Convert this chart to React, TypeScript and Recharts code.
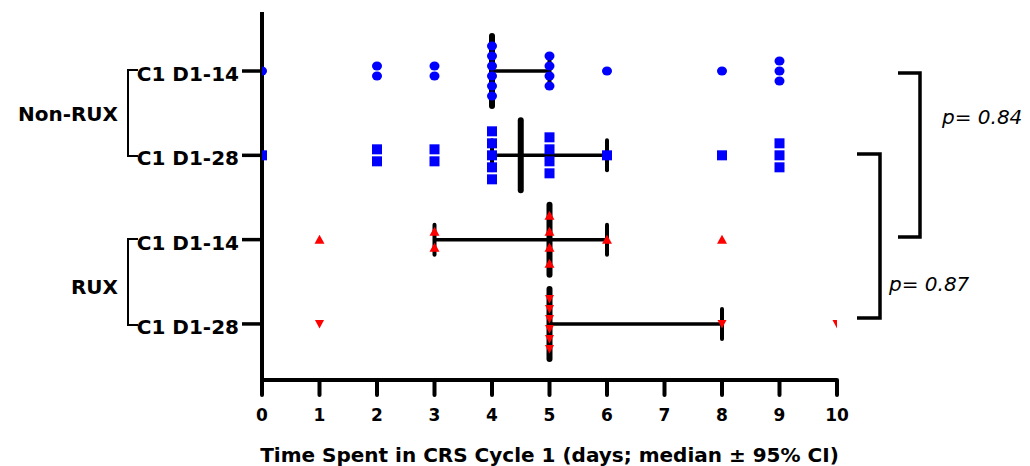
import { Scatter, ScatterChart, XAxis, YAxis } from 'recharts'

// 行（上から順）: Non-RUX C1 D1-14, Non-RUX C1 D1-28, RUX C1 D1-14, RUX C1 D1-28
const rowLabels = ['C1 D1-14', 'C1 D1-28', 'C1 D1-14', 'C1 D1-28']
const rowPos = [4, 3, 2, 1]

// 各患者の CRS 日数
const nonRux14 = [0, 2, 2, 3, 3, 4, 4, 4, 4, 4, 4, 5, 5, 5, 5, 6, 8, 9, 9, 9]
const nonRux28 = [0, 2, 2, 3, 3, 4, 4, 4, 4, 4, 5, 5, 5, 5, 6, 8, 9, 9, 9]
const rux14 = [1, 3, 3, 5, 5, 5, 5, 6, 8]
const rux28 = [1, 5, 5, 5, 5, 5, 5, 8, 10]

// 中央値と 95% CI
const medians = [4, 4.5, 5, 5]
const ciLow = [4, 4, 3, 5]
const ciHigh = [5, 6, 6, 8]

const xTicks = [0, 1, 2, 3, 4, 5, 6, 7, 8, 9, 10]

const W = 1030
const H = 466
const PLOT_TOP = 12
const PLOT_BOTTOM = 380
const Y_DOMAIN: [number, number] = [0.335, 4.7]
const PX_PER_UNIT = (PLOT_BOTTOM - PLOT_TOP) / (Y_DOMAIN[1] - Y_DOMAIN[0])

const FONT = '"DejaVu Sans", Verdana, sans-serif'
const BLUE = '#0000ff'
const RED = '#ff0000'

/** 同じ値の点を縦に積む（gap はピクセル）。 */
function stack(values: number[], row: number, gap: number) {
  const counts = new Map<number, number>()
  values.forEach((v) => counts.set(v, (counts.get(v) ?? 0) + 1))
  const seen = new Map<number, number>()
  return values.map((v) => {
    const n = counts.get(v) ?? 1
    const i = seen.get(v) ?? 0
    seen.set(v, i + 1)
    return { x: v, y: row + (((n - 1) / 2 - i) * gap) / PX_PER_UNIT }
  })
}

const Dot = (p: any) => <ellipse cx={p.cx} cy={p.cy} rx={5} ry={4.5} fill={BLUE} />
const Square = (p: any) => <rect x={p.cx - 5} y={p.cy - 5} width={10} height={10} fill={BLUE} />
const TriUp = (p: any) => (
  <polygon points={`${p.cx - 5},${p.cy + 4} ${p.cx + 5},${p.cy + 4} ${p.cx},${p.cy - 5}`} fill={RED} />
)
const TriDown = (p: any) => (
  <polygon points={`${p.cx - 4.5},${p.cy - 4} ${p.cx + 4.5},${p.cy - 4} ${p.cx},${p.cy + 4.5}`} fill={RED} />
)
const MedianBar = (p: any) => (
  <line x1={p.cx} x2={p.cx} y1={p.cy - 35} y2={p.cy + 35} stroke="#000" strokeWidth={6} strokeLinecap="round" />
)
const Cap = (p: any) => (
  <line x1={p.cx} x2={p.cx} y1={p.cy - 15} y2={p.cy + 15} stroke="#000" strokeWidth={4} strokeLinecap="round" />
)

const XTick = ({ x, y, payload }: any) => (
  <text x={x} y={y} dy={26} textAnchor="middle" fontFamily={FONT} fontWeight="bold" fontSize={17} fill="#000">
    {payload.value}
  </text>
)

const YTick = ({ x, y, payload }: any) => (
  <text x={x} y={y} dy={10} textAnchor="end" fontFamily={FONT} fontWeight="bold" fontSize={20} fill="#000">
    {rowLabels[rowPos.indexOf(payload.value)]}
  </text>
)

export default function App() {
  const medianData = medians.map((m, i) => ({ x: m, y: rowPos[i] }))
  const ciData = ciLow.map((lo, i) => [
    { x: lo, y: rowPos[i] },
    { x: ciHigh[i], y: rowPos[i] },
  ])

  return (
    <div style={{ position: 'absolute', left: 0, top: 0, width: W, height: H, background: '#fff' }}>
      <ScatterChart width={W} height={H} margin={{ top: PLOT_TOP, right: 193, bottom: 0, left: 0 }}>
        <XAxis
          type="number"
          dataKey="x"
          domain={[0, 10]}
          ticks={xTicks}
          allowDataOverflow
          height={H - PLOT_BOTTOM}
          tickSize={15}
          tickMargin={0}
          tick={<XTick />}
          axisLine={{ stroke: '#000', strokeWidth: 4 }}
          tickLine={{ stroke: '#000', strokeWidth: 4, strokeLinecap: 'round' }}
        />
        <YAxis
          type="number"
          dataKey="y"
          domain={Y_DOMAIN}
          ticks={rowPos}
          allowDataOverflow
          width={262}
          tickSize={20}
          tickMargin={3}
          tick={<YTick />}
          axisLine={{ stroke: '#000', strokeWidth: 4 }}
          tickLine={{ stroke: '#000', strokeWidth: 3.5 }}
        />
        {ciData.map((d, i) => (
          <Scatter
            key={`ci${i}`}
            data={d}
            line={{ stroke: '#000', strokeWidth: 3.5 }}
            shape={Cap}
            isAnimationActive={false}
          />
        ))}
        <Scatter data={medianData} shape={MedianBar} isAnimationActive={false} />
        <Scatter data={stack(nonRux14, rowPos[0], 10)} shape={Dot} isAnimationActive={false} />
        <Scatter data={stack(nonRux28, rowPos[1], 12)} shape={Square} isAnimationActive={false} />
        <Scatter data={stack(rux14, rowPos[2], 16)} shape={TriUp} isAnimationActive={false} />
        <Scatter data={stack(rux28, rowPos[3], 10)} shape={TriDown} isAnimationActive={false} />
      </ScatterChart>

      {/* 群ラベル・括弧・p 値・軸タイトル */}
      <svg width={W} height={H} style={{ position: 'absolute', left: 0, top: 0, pointerEvents: 'none' }}>
        <g fontFamily={FONT} fontWeight="bold" fontSize={20} fill="#000">
          <text x={118} y={121} textAnchor="end">Non-RUX</text>
          <text x={118} y={294} textAnchor="end">RUX</text>
          <text x={549.5} y={461.5} textAnchor="middle">Time Spent in CRS Cycle 1 (days; median ± 95% CI)</text>
        </g>
        <g fill="none" stroke="#000" strokeWidth={2}>
          <polyline points="138,70 128,70 128,156 138,156" />
          <polyline points="138,239 128,239 128,325 138,325" />
        </g>
        <g fill="none" stroke="#000" strokeWidth={3.5}>
          <polyline points="898,73 920,73 920,237 898,237" />
          <polyline points="857,154 880,154 880,318 857,318" />
        </g>
        <g fontFamily={FONT} fontStyle="italic" fontSize={20} fill="#000">
          <text x={942} y={124}>p= 0.84</text>
          <text x={889} y={291}>p= 0.87</text>
        </g>
      </svg>
    </div>
  )
}
